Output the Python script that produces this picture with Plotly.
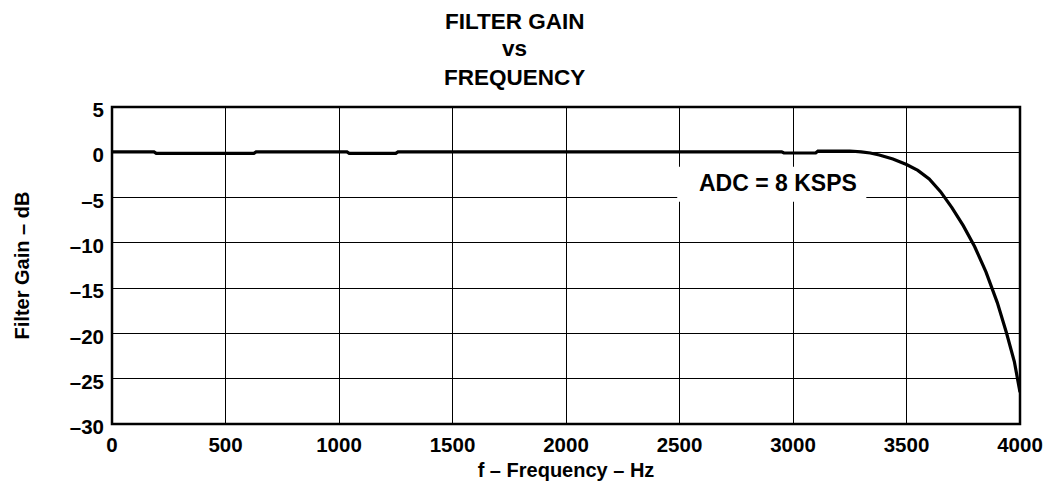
import plotly.graph_objects as go

# Measured filter response, 8 KSPS ADC rate
freq_hz = [0, 185, 195, 625, 635, 1035, 1045, 1250, 1260, 2950, 2960,
           3100, 3110, 3250, 3300, 3340, 3380, 3440, 3500, 3550, 3600,
           3650, 3700, 3750, 3800, 3850, 3900, 3940, 3975, 4000]
gain_db = [0.05, 0.05, -0.12, -0.12, 0.05, 0.05, -0.12, -0.12, 0.05, 0.05, -0.08,
           -0.08, 0.14, 0.14, 0.05, -0.08, -0.3, -0.75, -1.35, -2.0, -2.95,
           -4.35, -6.1, -8.1, -10.4, -13.2, -16.6, -19.9, -23.1, -26.5]

x_ticks = [0, 500, 1000, 1500, 2000, 2500, 3000, 3500, 4000]
y_ticks = [5, 0, -5, -10, -15, -20, -25, -30]
y_tick_text = ["5", "0", "–5", "–10", "–15", "–20", "–25", "–30"]

FONT = "Liberation Sans, Arial, sans-serif"

fig = go.Figure()
fig.add_trace(go.Scatter(
    x=freq_hz, y=gain_db, mode="lines",
    line=dict(color="black", width=3.2),
    showlegend=False, hoverinfo="skip",
))

fig.update_layout(
    width=1055, height=490,
    margin=dict(l=112, r=34, t=107, b=64),
    paper_bgcolor="white", plot_bgcolor="white",
    font=dict(family=FONT, color="black", size=20),
    xaxis=dict(
        range=[0, 4000], tickvals=x_ticks, ticktext=[str(v) for v in x_ticks],
        showgrid=True, gridcolor="black", gridwidth=1, zeroline=False,
        showline=False, ticks="", ticklabelstandoff=6,
        tickfont=dict(family=FONT, size=20.5, color="black", weight="bold"),
        title=dict(text="<b>f – Frequency – Hz</b>", standoff=8,
                   font=dict(family=FONT, size=20, color="black")),
    ),
    yaxis=dict(
        range=[-30, 5], tickvals=y_ticks, ticktext=y_tick_text,
        showgrid=True, gridcolor="black", gridwidth=1, zeroline=False,
        showline=False, ticks="", ticklabelstandoff=7, ticklabelshift=3,
        tickfont=dict(family=FONT, size=20.5, color="black", weight="bold"),
        title=dict(text="<b>Filter Gain – dB</b>", standoff=34,
                   font=dict(family=FONT, size=20, color="black")),
    ),
)

# Plot frame
fig.add_shape(type="rect", xref="paper", yref="paper", x0=0, y0=0, x1=1, y1=1,
              line=dict(color="black", width=2.5), layer="above")

# Title lines
for text, ypix in [("FILTER GAIN", 21), ("vs", 48), ("FREQUENCY", 77)]:
    fig.add_annotation(text=f"<b>{text}</b>", xref="paper", yref="paper",
                       x=(515 - 112) / (1055 - 112 - 34), y=1 + (107 - ypix) / (490 - 107 - 64),
                       xanchor="center", yanchor="middle", showarrow=False,
                       font=dict(family=FONT, size=22.5, color="black"))

# White panel that masks the grid behind the rate label
fig.add_shape(type="rect", xref="x", yref="y", x0=2490, x1=3323, y0=-5.45, y1=-1.61,
              fillcolor="white", line=dict(width=0), layer="above")

fig.add_annotation(text="<b>ADC = 8 KSPS</b>", x=2935, y=-3.42, xref="x", yref="y",
                   showarrow=False, xanchor="center", yanchor="middle",
                   font=dict(family=FONT, size=23, color="black"))

fig.write_html("out.html")
